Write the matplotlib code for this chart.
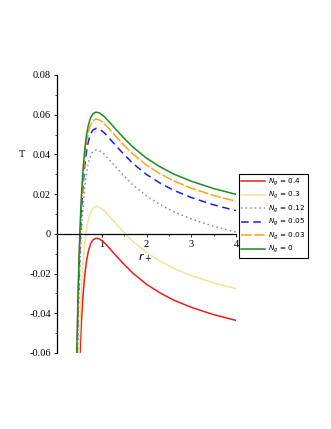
import matplotlib
matplotlib.use("Agg")
import matplotlib.pyplot as plt
from matplotlib.ticker import FixedLocator, MultipleLocator, FuncFormatter
import matplotlib.transforms as mtransforms

# horizon radius grid
r_plus = [0.43, 0.45, 0.47, 0.49, 0.51, 0.53, 0.55, 0.58, 0.62, 0.66, 0.70, 0.75, 0.80,
          0.87, 0.95, 1.05, 1.15, 1.3, 1.5, 1.7, 2.0, 2.3, 2.6, 3.0, 3.5, 4.0]

# temperature for each N_g value
t_04 = [-0.1395, -0.1145, -0.0935, -0.077, -0.0633, -0.0519, -0.0425, -0.0315, -0.0209,
        -0.0137, -0.0088, -0.0051, -0.0031, -0.0022, -0.0026, -0.0043, -0.0067, -0.0105,
        -0.0154, -0.0199, -0.0254, -0.0297, -0.0333, -0.0370, -0.0407, -0.0436]
t_03 = [-0.1235, -0.0985, -0.0775, -0.061, -0.0473, -0.0359, -0.0265, -0.0155, -0.0049,
        0.0023, 0.0072, 0.0109, 0.0129, 0.0138, 0.0134, 0.0117, 0.0093, 0.0055, 0.0006,
        -0.0039, -0.0094, -0.0137, -0.0173, -0.0210, -0.0247, -0.0276]
t_012 = [-0.095, -0.070, -0.049, -0.0325, -0.0188, -0.0074, 0.0020, 0.0130, 0.0236,
         0.0308, 0.0357, 0.0394, 0.0414, 0.0423, 0.0419, 0.0402, 0.0378, 0.0340, 0.0291,
         0.0246, 0.0191, 0.0148, 0.0112, 0.0075, 0.0038, 0.0009]
t_005 = [-0.0842, -0.0592, -0.0382, -0.0217, -0.0080, 0.0034, 0.0128, 0.0238, 0.0344,
         0.0416, 0.0465, 0.0502, 0.0522, 0.0531, 0.0527, 0.0510, 0.0486, 0.0448, 0.0399,
         0.0354, 0.0299, 0.0256, 0.0220, 0.0183, 0.0146, 0.0117]
t_003 = [-0.0795, -0.0545, -0.0335, -0.017, -0.0033, 0.0081, 0.0175, 0.0285, 0.0391,
         0.0463, 0.0512, 0.0549, 0.0569, 0.0578, 0.0574, 0.0557, 0.0533, 0.0495, 0.0446,
         0.0401, 0.0346, 0.0303, 0.0267, 0.0230, 0.0193, 0.0164]
t_0 = [-0.076, -0.051, -0.030, -0.0135, 0.0002, 0.0116, 0.0210, 0.0320, 0.0426, 0.0498,
       0.0547, 0.0584, 0.0604, 0.0613, 0.0609, 0.0592, 0.0568, 0.0530, 0.0481, 0.0436,
       0.0381, 0.0338, 0.0302, 0.0265, 0.0228, 0.0199]

labels = ["0.4", "0.3", "0.12", "0.05", "0.03", "0"]
series = [t_04, t_03, t_012, t_005, t_003, t_0]
colors = ["#f01c1c", "#f3e39a", "#8c8c8c", "#1c1cf0", "#ffa31a", "#1f8a1f"]
styles = ["-", "-", (0, (1, 2)), (0, (5, 3)), (0, (7, 1.5)), "-"]

x_ticks = [1, 2, 3, 4]
y_ticks = [-0.06, -0.04, -0.02, 0, 0.02, 0.04, 0.06, 0.08]

fig = plt.figure(figsize=(3.31, 4.29), dpi=100)
ax = fig.add_axes([0.1722, 0.1772, 0.5408, 0.648])

for vals, lab, col, ls in zip(series, labels, colors, styles):
    ax.plot(r_plus, vals, color=col, linestyle=ls, linewidth=1.1,
            label=r"$N_g$" + " = " + lab)

ax.set_xlim(0, 4)
ax.set_ylim(-0.06, 0.08)

ax.spines["top"].set_visible(False)
ax.spines["right"].set_visible(False)
ax.spines["bottom"].set_position(("data", 0))
ax.spines["bottom"].set_linewidth(0.9)
ax.spines["left"].set_linewidth(0.9)

serif = "Liberation Serif"
ax.xaxis.set_major_locator(FixedLocator(x_ticks))
ax.xaxis.set_minor_locator(MultipleLocator(0.5))
ax.yaxis.set_major_locator(FixedLocator(y_ticks))
ax.yaxis.set_minor_locator(MultipleLocator(0.01))
ax.yaxis.set_major_formatter(FuncFormatter(lambda v, p: "0" if abs(v) < 1e-9 else f"{v:.2f}"))
ax.tick_params(axis="both", which="major", length=2.5, width=0.6, labelsize=7.5, pad=2)
ax.tick_params(axis="both", which="minor", length=1.5, width=0.5)
for t in ax.get_xticklabels() + ax.get_yticklabels():
    t.set_fontfamily(serif)

ax.text(1.97, -0.0118, r"$r_+$", ha="center", va="center", fontsize=8)
trans = mtransforms.blended_transform_factory(ax.transAxes, ax.transData)
ax.text(-0.196, 0.04, "T", transform=trans, ha="center", va="center",
        fontsize=7.5, family=serif)

leg = fig.legend(loc="upper left", bbox_to_anchor=(0.722, 0.594), fontsize=5.2,
                 frameon=True, fancybox=False, framealpha=1, edgecolor="black",
                 handlelength=3.3, handletextpad=0.45, labelspacing=0.28,
                 borderpad=0.3, borderaxespad=0)
leg.get_frame().set_linewidth(0.8)

fig.savefig("out.png", dpi=100)
